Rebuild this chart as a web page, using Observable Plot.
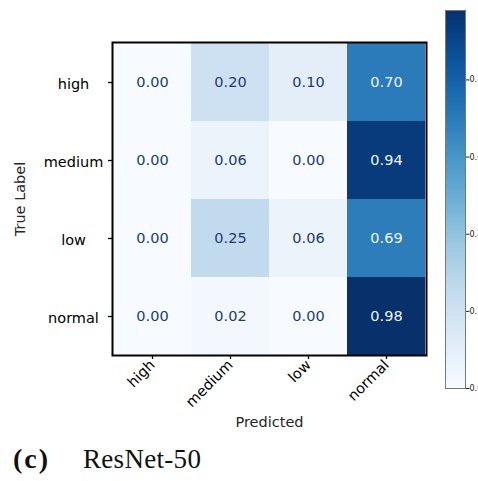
<!DOCTYPE html>
<html>
<head>
<meta charset="utf-8">
<script src="https://cdn.jsdelivr.net/npm/d3@7"></script>
<script src="https://cdn.jsdelivr.net/npm/@observablehq/plot@0.6"></script>
<style>
  html, body { margin: 0; padding: 0; background: white; }
  #wrap { position: relative; width: 478px; height: 481px; overflow: hidden; }
  #main, #cbar { position: absolute; left: 0; top: 0; }
  .cap { position: absolute; top: 446px; font-family: "Liberation Serif", "DejaVu Serif", serif; font-size: 27px; line-height: 1; color: #111; white-space: nowrap; }
  #capA { left: 13px; font-weight: bold; letter-spacing: 2px; font-size: 28px; top: 445px; }
  #capB { left: 83px; letter-spacing: 0.3px; }
</style>
</head>
<body>
<div id="wrap">
  <div id="main"></div>
  <div id="cbar"></div>
  <div class="cap" id="capA">(c)</div>
  <div class="cap" id="capB">ResNet-50</div>
</div>
<script>
const predicted = ["high", "medium", "low", "normal"];
const trueLabels = ["high", "medium", "low", "normal"];
const highRow   = [0.00, 0.20, 0.10, 0.70];
const mediumRow = [0.00, 0.06, 0.00, 0.94];
const lowRow    = [0.00, 0.25, 0.06, 0.69];
const normalRow = [0.00, 0.02, 0.00, 0.98];
const colorbarTicks = [0.0, 0.2, 0.4, 0.6, 0.8];
const colorMax = 0.98;

const rows = [highRow, mediumRow, lowRow, normalRow];
const cells = [];
trueLabels.forEach((t, i) => predicted.forEach((p, j) => cells.push({truth: t, pred: p, value: rows[i][j]})));

const W = 478, H = 440;
const color = {type: "linear", scheme: "blues", domain: [0, colorMax]};

const main = Plot.plot({
  width: W, height: H,
  marginLeft: 112, marginRight: 52, marginTop: 42, marginBottom: 85,
  style: {fontFamily: "DejaVu Sans, sans-serif", fontSize: "14.5px", color: "black", background: "transparent"},
  x: {type: "band", domain: predicted, padding: 0},
  y: {type: "band", domain: trueLabels, padding: 0},
  color,
  marks: [
    Plot.cell(cells, {x: "pred", y: "truth", fill: "value", inset: 0, shapeRendering: "crispEdges"}),
    Plot.text(cells, {x: "pred", y: "truth", text: d => d.value.toFixed(2),
      fill: d => d.value > 0.5 ? "#eef3fa" : "#1f3b6e", fontSize: 14.5}),
    Plot.frame({stroke: "black", strokeWidth: 2}),
    Plot.axisX({tickRotate: -45, tickSize: 4, tickPadding: 3, label: null, fontSize: 14.5, strokeWidth: 1.3}),
    Plot.axisY({tickSize: 4, tickFormat: () => "", label: null, strokeWidth: 1.3}),
    Plot.text(trueLabels, {y: d => d, frameAnchor: "left", dx: -39, dy: 2, textAnchor: "middle", text: d => d, fontSize: 14.5, fill: "black"}),
    Plot.text(["Predicted"], {frameAnchor: "bottom", dy: 67, text: d => d, fontSize: 14.5, fill: "#262626", lineAnchor: "middle"}),
    Plot.text(["True Label"], {frameAnchor: "left", dx: -92, rotate: -90, textAnchor: "middle", text: d => d, fontSize: 14.5, fill: "#262626", lineAnchor: "middle"})
  ]
});
document.getElementById("main").append(main);

const step = colorMax / 300;
const strips = d3.range(0, colorMax, step).map(v => ({v0: v, v1: Math.min(v + step * 1.05, colorMax)}));
const cbar = Plot.plot({
  width: W, height: H,
  marginLeft: 445, marginRight: 13, marginTop: 10, marginBottom: 52,
  style: {fontFamily: "DejaVu Sans, sans-serif", fontSize: "8px", color: "#222", background: "transparent"},
  x: {domain: [0, 1], axis: null},
  y: {domain: [0, colorMax], axis: null},
  color,
  marks: [
    Plot.rect(strips, {x1: 0, x2: 1, y1: "v0", y2: "v1", fill: "v0", shapeRendering: "crispEdges"}),
    Plot.frame({stroke: "#777", strokeWidth: 1}),
    Plot.axisY(colorbarTicks, {anchor: "right", tickSize: 3.5, tickPadding: 0.5, tickFormat: d3.format(".1f"), label: null, fontSize: 8})
  ]
});
document.getElementById("cbar").append(cbar);
</script>
</body>
</html>
